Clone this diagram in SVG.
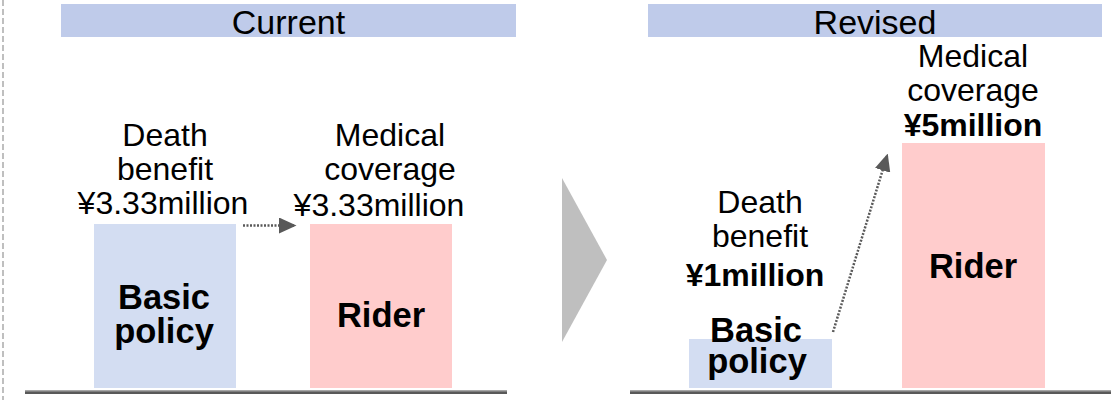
<svg xmlns="http://www.w3.org/2000/svg" width="1111" height="400" viewBox="0 0 1111 400">
<defs>
<style>
.t{font-family:"Liberation Sans",Arial,sans-serif;font-size:32px;fill:#000;text-anchor:middle}
.b{font-weight:bold}
.big{font-size:34.5px}
.hd{font-size:34px}
.hdr{fill:#bfcbea}
.basic{fill:#d3ddf2}
.rider{fill:#ffcccc}
.base1{fill:#a6a6a6}
.base2{fill:#595959}
.conn{stroke:#595959;stroke-width:2.5;stroke-dasharray:2 1.5;fill:none}
</style>
<marker id="ah" markerWidth="7" markerHeight="6.4" refX="6" refY="3.2" orient="auto" markerUnits="strokeWidth">
<path d="M0,0 L7,3.2 L0,6.4 Z" fill="#595959"/>
</marker>
</defs>
<rect width="1111" height="400" fill="#fff"/>
<line x1="3" y1="0" x2="3" y2="400" stroke="#bfbfbf" stroke-width="2" stroke-dasharray="6 3"/>
<g id="header-current">
<rect class="hdr" x="61" y="4" width="455" height="33"/>
<text class="t hd" x="288.5" y="34">Current</text>
</g>
<g id="header-revised">
<rect class="hdr" x="648" y="4" width="454" height="33"/>
<text class="t hd" x="875" y="34">Revised</text>
</g>
<g id="baseline-left">
<rect class="base1" x="25" y="390" width="482" height="4"/>
<rect class="base2" x="25" y="391.5" width="482" height="2.5"/>
</g>
<g id="baseline-right">
<rect class="base1" x="630" y="390" width="481" height="4"/>
<rect class="base2" x="630" y="391.5" width="481" height="2.5"/>
</g>
<g id="cur-basic">
<rect class="basic" x="94" y="224" width="142" height="164"/>
<text class="t b big"><tspan x="164" y="309">Basic</tspan><tspan x="164" y="343">policy</tspan></text>
</g>
<g id="cur-death-label">
<text class="t"><tspan x="165" y="146">Death</tspan><tspan x="165" y="180">benefit</tspan><tspan x="163" y="214">¥3.33million</tspan></text>
</g>
<g id="cur-rider">
<rect class="rider" x="310" y="224" width="142" height="164"/>
<text class="t b big" x="381" y="327">Rider</text>
</g>
<g id="cur-medical-label">
<text class="t"><tspan x="390" y="146">Medical</tspan><tspan x="390" y="180">coverage</tspan><tspan x="379" y="216">¥3.33million</tspan></text>
</g>
<g id="chevron">
<polygon points="562,178 607,260 562,342" fill="#bfbfbf"/>
</g>
<g id="rev-basic">
<rect class="basic" x="689" y="339" width="143" height="49"/>
<text class="t b big"><tspan x="756" y="342">Basic</tspan><tspan x="757" y="373">policy</tspan></text>
</g>
<g id="rev-death-label">
<text class="t"><tspan x="760" y="213">Death</tspan><tspan x="760" y="247">benefit</tspan><tspan x="755" y="286" class="b">¥1million</tspan></text>
</g>
<g id="rev-rider">
<rect class="rider" x="902" y="143" width="143" height="245"/>
<text class="t b big" x="973" y="278">Rider</text>
</g>
<g id="rev-medical-label">
<text class="t"><tspan x="973" y="67">Medical</tspan><tspan x="973" y="101">coverage</tspan><tspan x="973" y="136" class="b">¥5million</tspan></text>
</g>
<g id="connectors">
<line class="conn" x1="243" y1="225.5" x2="294" y2="225.5" marker-end="url(#ah)"/>
<line class="conn" x1="833" y1="332" x2="887" y2="156" marker-end="url(#ah)"/>
</g>
</svg>
